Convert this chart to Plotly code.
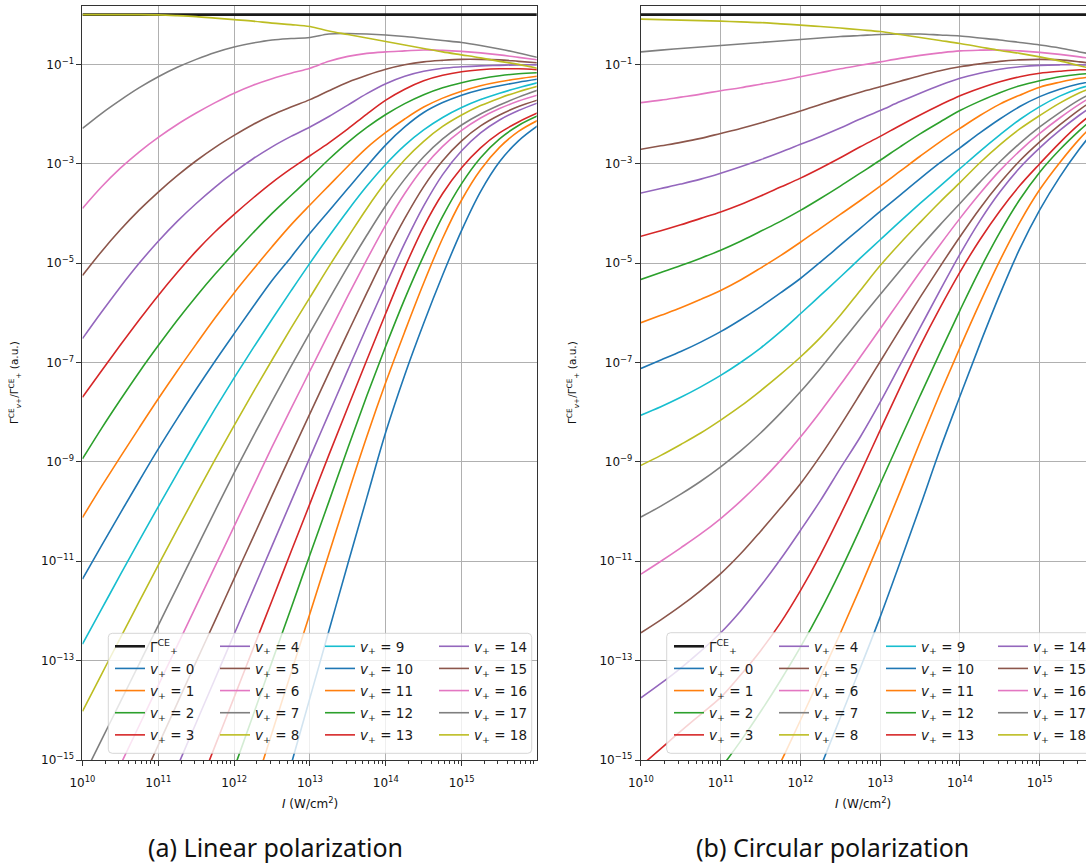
import plotly.graph_objects as go

# ---------------------------------------------------------------------------
# Data: log10 of intensity (W/cm^2) and log10 of Gamma_v+ / Gamma_+
# (None where the ratio lies far below the plotted range)
# ---------------------------------------------------------------------------
log_i_lin = [10.0, 10.25, 10.5, 10.75, 11.0, 11.25, 11.5, 11.75, 12.0, 12.25, 12.5, 12.75, 13.0,
             13.25, 13.5, 13.75, 14.0, 14.25, 14.5, 14.75, 15.0, 15.25, 15.5, 15.75, 16.0]
log_i_cir = [10.0, 10.25, 10.5, 10.75, 11.0, 11.25, 11.5, 11.75, 12.0, 12.25, 12.5, 12.75, 13.0,
             13.25, 13.5, 13.75, 14.0, 14.25, 14.5, 14.75, 15.0, 15.25, 15.5, 15.75]

# total rate (normalised)
lin_gamma = [0.0] * 25
cir_gamma = [0.0] * 24

# (a) linear polarization
lin_v0 = [None, None, None, None, None, None, None, None, None, -17.8, -16.45, -15.1, -13.75,
          -12.4, -11.05, -9.72, -8.4, -7.25, -6.21, -5.24, -4.34, -3.56, -2.96, -2.54, -2.24]
lin_v1 = [None, None, None, None, None, None, None, -18.05, -16.85, -15.65, -14.45, -13.25, -12.05,
          -10.85, -9.65, -8.49, -7.4, -6.38, -5.4, -4.5, -3.73, -3.12, -2.67, -2.35, -2.13]
lin_v2 = [None, None, None, None, None, None, -17.3, -16.25, -15.17, -14.1, -13.02, -11.95, -10.87,
          -9.8, -8.72, -7.67, -6.67, -5.72, -4.85, -4.06, -3.4, -2.88, -2.5, -2.23, -2.04]
lin_v3 = [None, None, None, None, None, -16.66, -15.69, -14.71, -13.74, -12.76, -11.79, -10.81, -9.84,
          -8.86, -7.9, -6.95, -6.01, -5.09, -4.27, -3.6, -3.08, -2.68, -2.38, -2.16, -1.98]
lin_v4 = [None, None, None, -16.92, -16.03, -15.14, -14.25, -13.36, -12.47, -11.58, -10.69, -9.8, -8.91,
          -8.03, -7.15, -6.28, -5.43, -4.6, -3.85, -3.22, -2.74, -2.38, -2.12, -1.93, -1.78]
lin_v5 = [None, -17.2, -16.37, -15.53, -14.7, -13.86, -13.02, -12.19, -11.35, -10.52, -9.68, -8.85, -8.03,
          -7.21, -6.4, -5.6, -4.82, -4.1, -3.46, -2.94, -2.54, -2.24, -2.02, -1.85, -1.72]
lin_v6 = [-16.7, -15.9, -15.1, -14.3, -13.5, -12.7, -11.9, -11.1, -10.3, -9.5, -8.7, -7.93, -7.17,
          -6.41, -5.66, -4.93, -4.23, -3.6, -3.07, -2.65, -2.33, -2.08, -1.89, -1.74, -1.62]
lin_v7 = [-15.37, -14.6, -13.83, -13.06, -12.29, -11.52, -10.75, -9.98, -9.22, -8.49, -7.78, -7.08, -6.4,
          -5.73, -5.07, -4.44, -3.84, -3.31, -2.86, -2.5, -2.22, -2.0, -1.82, -1.66, -1.52]
lin_v8 = [-14.02, -13.28, -12.54, -11.81, -11.08, -10.36, -9.65, -8.95, -8.27, -7.6, -6.95, -6.31, -5.69,
          -5.07, -4.48, -3.9, -3.37, -2.92, -2.55, -2.25, -2.02, -1.83, -1.68, -1.55, -1.44]
lin_v9 = [-12.67, -11.97, -11.27, -10.58, -9.9, -9.23, -8.57, -7.93, -7.31, -6.71, -6.13, -5.56, -5.0,
          -4.46, -3.94, -3.45, -3.01, -2.63, -2.32, -2.07, -1.87, -1.71, -1.58, -1.47, -1.37]
lin_v10 = [-11.36, -10.69, -10.03, -9.38, -8.74, -8.13, -7.54, -6.97, -6.42, -5.88, -5.35, -4.88, -4.4,
           -3.95, -3.5, -3.05, -2.62, -2.26, -1.97, -1.77, -1.62, -1.51, -1.43, -1.36, -1.3]
lin_v11 = [-10.12, -9.5, -8.9, -8.31, -7.73, -7.17, -6.63, -6.1, -5.6, -5.13, -4.67, -4.23, -3.83,
           -3.44, -3.05, -2.68, -2.37, -2.1, -1.86, -1.68, -1.54, -1.43, -1.35, -1.29, -1.24]
lin_v12 = [-8.94, -8.33, -7.75, -7.19, -6.66, -6.15, -5.67, -5.22, -4.8, -4.39, -4.0, -3.64, -3.28,
           -2.91, -2.57, -2.27, -2.01, -1.79, -1.61, -1.47, -1.37, -1.29, -1.23, -1.19, -1.17]
lin_v13 = [-7.7, -7.17, -6.65, -6.14, -5.65, -5.19, -4.76, -4.37, -4.02, -3.69, -3.38, -3.1, -2.84,
           -2.58, -2.3, -2.0, -1.72, -1.5, -1.33, -1.22, -1.15, -1.11, -1.09, -1.09, -1.11]
lin_v14 = [-6.52, -5.99, -5.48, -5.0, -4.56, -4.16, -3.8, -3.47, -3.17, -2.9, -2.66, -2.45, -2.26,
           -2.05, -1.82, -1.59, -1.39, -1.24, -1.14, -1.08, -1.05, -1.03, -1.02, -1.01, -1.01]
lin_v15 = [-5.25, -4.77, -4.33, -3.93, -3.57, -3.24, -2.94, -2.67, -2.43, -2.21, -2.02, -1.86, -1.71,
           -1.53, -1.36, -1.22, -1.1, -1.01, -0.95, -0.92, -0.9, -0.9, -0.91, -0.94, -0.97]
lin_v16 = [-3.9, -3.47, -3.09, -2.76, -2.47, -2.21, -1.98, -1.77, -1.58, -1.42, -1.29, -1.18, -1.08,
           -0.94, -0.84, -0.78, -0.75, -0.73, -0.71, -0.72, -0.74, -0.77, -0.81, -0.86, -0.91]
lin_v17 = [-2.29, -1.99, -1.72, -1.47, -1.25, -1.06, -0.9, -0.76, -0.65, -0.57, -0.51, -0.48, -0.46,
           -0.39, -0.38, -0.39, -0.41, -0.44, -0.48, -0.52, -0.56, -0.62, -0.69, -0.77, -0.86]
lin_v18 = [0.0, 0.0, 0.0, 0.0, -0.005, -0.02, -0.04, -0.07, -0.1, -0.13, -0.17, -0.2, -0.24,
           -0.33, -0.4, -0.47, -0.54, -0.61, -0.68, -0.75, -0.81, -0.87, -0.94, -1.0, -1.08]

# (b) circular polarization
cir_v0 = [None, None, None, None, None, None, None, -17.2, -16.2, -15.15, -14.15, -13.15,
          -12.12, -11.02, -9.9, -8.75, -7.68, -6.63, -5.63, -4.71, -3.93, -3.27, -2.7, -2.2]
cir_v1 = [None, None, None, None, None, -16.5, -15.8, -15.05, -14.2, -13.33, -12.45, -11.53,
          -10.58, -9.6, -8.6, -7.63, -6.7, -5.8, -4.95, -4.18, -3.52, -2.98, -2.5, -2.1]
cir_v2 = [None, None, -16.2, -15.7, -15.17, -14.62, -14.03, -13.4, -12.73, -12.0, -11.2, -10.34,
          -9.44, -8.55, -7.67, -6.8, -5.95, -5.13, -4.38, -3.72, -3.17, -2.72, -2.33, -1.98]
cir_v3 = [-15.12, -14.77, -14.42, -14.08, -13.74, -13.29, -12.8, -12.24, -11.59, -10.87, -10.07, -9.23,
          -8.36, -7.5, -6.67, -5.9, -5.18, -4.53, -3.95, -3.44, -3.0, -2.58, -2.2, -1.88]
cir_v4 = [-13.75, -13.46, -13.15, -12.81, -12.44, -12.0, -11.5, -10.96, -10.38, -9.78, -9.13, -8.5,
          -7.8, -7.05, -6.3, -5.55, -4.82, -4.15, -3.57, -3.08, -2.68, -2.33, -2.02, -1.74]
cir_v5 = [-12.44, -12.18, -11.9, -11.59, -11.25, -10.85, -10.4, -9.93, -9.44, -8.88, -8.27, -7.63,
          -6.98, -6.33, -5.69, -5.07, -4.47, -3.9, -3.39, -2.94, -2.56, -2.22, -1.91, -1.64]
cir_v6 = [-11.26, -11.0, -10.73, -10.45, -10.14, -9.79, -9.4, -8.97, -8.5, -7.99, -7.45, -6.89,
          -6.32, -5.75, -5.18, -4.63, -4.1, -3.6, -3.14, -2.74, -2.39, -2.08, -1.8, -1.56]
cir_v7 = [-10.11, -9.89, -9.65, -9.39, -9.1, -8.78, -8.42, -8.02, -7.59, -7.12, -6.62, -6.12,
          -5.63, -5.15, -4.68, -4.23, -3.8, -3.37, -2.96, -2.59, -2.26, -1.97, -1.71, -1.5]
cir_v8 = [-9.07, -8.87, -8.65, -8.42, -8.16, -7.88, -7.57, -7.24, -6.89, -6.5, -6.05, -5.55,
          -5.05, -4.6, -4.18, -3.77, -3.38, -2.98, -2.62, -2.3, -2.03, -1.78, -1.57, -1.42]
cir_v9 = [-8.06, -7.89, -7.7, -7.49, -7.26, -7.0, -6.71, -6.38, -6.02, -5.65, -5.28, -4.9,
          -4.53, -4.16, -3.8, -3.45, -3.1, -2.75, -2.42, -2.11, -1.85, -1.64, -1.48, -1.38]
cir_v10 = [-7.12, -6.95, -6.78, -6.59, -6.38, -6.14, -5.88, -5.6, -5.31, -4.98, -4.64, -4.3,
           -3.96, -3.63, -3.3, -2.98, -2.68, -2.38, -2.1, -1.85, -1.65, -1.5, -1.39, -1.32]
cir_v11 = [-6.2, -6.05, -5.9, -5.73, -5.55, -5.34, -5.1, -4.85, -4.58, -4.3, -4.02, -3.74,
           -3.45, -3.15, -2.85, -2.56, -2.29, -2.03, -1.8, -1.62, -1.46, -1.36, -1.28, -1.24]
cir_v12 = [-5.33, -5.19, -5.05, -4.9, -4.74, -4.56, -4.36, -4.16, -3.94, -3.7, -3.45, -3.19,
           -2.93, -2.66, -2.4, -2.16, -1.93, -1.74, -1.57, -1.43, -1.33, -1.25, -1.2, -1.17]
cir_v13 = [-4.46, -4.35, -4.23, -4.1, -3.97, -3.82, -3.65, -3.47, -3.29, -3.09, -2.88, -2.66,
           -2.45, -2.23, -2.02, -1.82, -1.63, -1.48, -1.35, -1.25, -1.18, -1.14, -1.11, -1.11]
cir_v14 = [-3.59, -3.5, -3.41, -3.31, -3.19, -3.06, -2.92, -2.77, -2.61, -2.45, -2.28, -2.1,
           -1.93, -1.75, -1.58, -1.42, -1.28, -1.18, -1.1, -1.05, -1.02, -1.01, -1.01, -1.03]
cir_v15 = [-2.71, -2.64, -2.57, -2.49, -2.39, -2.29, -2.18, -2.06, -1.94, -1.81, -1.68, -1.56,
           -1.45, -1.34, -1.23, -1.13, -1.05, -0.99, -0.94, -0.91, -0.9, -0.91, -0.95, -1.0]
cir_v16 = [-1.77, -1.72, -1.66, -1.6, -1.53, -1.47, -1.4, -1.33, -1.25, -1.17, -1.09, -1.02,
           -0.95, -0.88, -0.82, -0.77, -0.73, -0.715, -0.71, -0.73, -0.76, -0.8, -0.85, -0.91]
cir_v17 = [-0.75, -0.715, -0.68, -0.65, -0.62, -0.59, -0.56, -0.53, -0.5, -0.47, -0.44, -0.42,
           -0.4, -0.39, -0.39, -0.41, -0.43, -0.47, -0.51, -0.56, -0.61, -0.67, -0.75, -0.83]
cir_v18 = [-0.09, -0.1, -0.11, -0.12, -0.13, -0.145, -0.16, -0.185, -0.21, -0.24, -0.27, -0.305,
           -0.34, -0.4, -0.46, -0.52, -0.58, -0.65, -0.72, -0.78, -0.85, -0.93, -1.03, -1.12]

lin_curves = [lin_v0, lin_v1, lin_v2, lin_v3, lin_v4, lin_v5, lin_v6, lin_v7, lin_v8, lin_v9,
              lin_v10, lin_v11, lin_v12, lin_v13, lin_v14, lin_v15, lin_v16, lin_v17, lin_v18]
cir_curves = [cir_v0, cir_v1, cir_v2, cir_v3, cir_v4, cir_v5, cir_v6, cir_v7, cir_v8, cir_v9,
              cir_v10, cir_v11, cir_v12, cir_v13, cir_v14, cir_v15, cir_v16, cir_v17, cir_v18]

x_tick_exp = [10, 11, 12, 13, 14, 15]
y_tick_exp = [-1, -3, -5, -7, -9, -11, -13, -15]

TAB10 = ["#1f77b4", "#ff7f0e", "#2ca02c", "#d62728", "#9467bd",
         "#8c564b", "#e377c2", "#7f7f7f", "#bcbd22", "#17becf"]

# ---------------------------------------------------------------------------
W, H = 1086, 867


def fx(px):
    return px / W


def fy(py):
    return 1 - py / H


def pow10(values):
    return [None if e is None else 10 ** e for e in values]


FONT = "DejaVu Sans"
fig = go.Figure()

panels = [
    dict(xa="x", ya="y", grid=log_i_lin, curves=lin_curves, gamma=lin_gamma,
         legends=["legend", "legend2", "legend3", "legend4"],
         leg_x=[110, 215, 320, 434]),
    dict(xa="x2", ya="y2", grid=log_i_cir, curves=cir_curves, gamma=cir_gamma,
         legends=["legend5", "legend6", "legend7", "legend8"],
         leg_x=[669, 774, 881, 993]),
]


def column_of(v):
    if v <= 3:
        return 0
    if v <= 8:
        return 1
    if v <= 13:
        return 2
    return 3


for p in panels:
    xs = pow10(p["grid"])
    fig.add_trace(go.Scatter(
        x=xs, y=pow10(p["gamma"]), mode="lines",
        line=dict(color="#1a1a1a", width=2.6),
        name="Γ<sup>CE</sup><sub>+</sub>", legend=p["legends"][0],
        legendgroup=p["xa"] + "g", xaxis=p["xa"], yaxis=p["ya"], hoverinfo="skip"))
    for v, vals in enumerate(p["curves"]):
        fig.add_trace(go.Scatter(
            x=xs, y=pow10(vals), mode="lines",
            line=dict(color=TAB10[v % 10], width=1.6, shape="spline", smoothing=1.0),
            name=f"<i>v</i><sub>+</sub> = {v}", legend=p["legends"][column_of(v)],
            legendgroup=f"{p['xa']}v{v}", xaxis=p["xa"], yaxis=p["ya"], hoverinfo="skip"))

axis_common = dict(
    type="log", showgrid=True, gridcolor="#b0b0b0", gridwidth=0.8,
    showline=True, linecolor="#333333", linewidth=1.1,
    ticks="outside", ticklen=5, tickwidth=1, tickcolor="#333333",
    tickfont=dict(family=FONT, size=12, color="#111111"),
    zeroline=False, automargin=False,
)

xtv = [10.0 ** e for e in x_tick_exp]
xtt = [f"10<sup>{e}</sup>" for e in x_tick_exp]
ytv = [10.0 ** e for e in y_tick_exp]
ytt = [f"10<sup>−{-e}</sup>" for e in y_tick_exp]
minor_x = [m * 10.0 ** e for e in range(10, 16) for m in range(2, 10)]

y_dom = [fy(760), fy(6)]
y_range = [-15, 0.174]

fig.update_layout(
    width=W, height=H, margin=dict(l=0, r=0, t=0, b=0, autoexpand=False),
    paper_bgcolor="white", plot_bgcolor="white", showlegend=True,
    xaxis=dict(axis_common, domain=[fx(82.45), fx(536.7)], range=[10, 15.99],
               tickmode="array", tickvals=xtv, ticktext=xtt, mirror=True, anchor="y",
               ticklabelstandoff=7,
               minor=dict(tickmode="array", tickvals=minor_x, ticks="outside",
                          ticklen=2.5, tickcolor="#333333", showgrid=False)),
    yaxis=dict(axis_common, domain=y_dom, range=y_range, tickmode="array",
               tickvals=ytv, ticktext=ytt, mirror=True, anchor="x"),
    xaxis2=dict(axis_common, domain=[fx(640.9), 1.0], range=[10, 15.58],
                tickmode="array", tickvals=xtv, ticktext=xtt, mirror=True, anchor="y2",
                ticklabelstandoff=7,
                minor=dict(tickmode="array", tickvals=minor_x, ticks="outside",
                           ticklen=2.5, tickcolor="#333333", showgrid=False)),
    yaxis2=dict(axis_common, domain=y_dom, range=y_range, tickmode="array",
                tickvals=ytv, ticktext=ytt, mirror=False, anchor="x2"),
)

# legends: four columns per panel
leg_font = dict(family=FONT, size=13.5, color="#1a1a1a")
for p in panels:
    for k, name in enumerate(p["legends"]):
        fig.update_layout({name: dict(
            x=fx(p["leg_x"][k]), y=fy(631), xanchor="left", yanchor="top",
            xref="paper", yref="paper", bgcolor="rgba(0,0,0,0)", borderwidth=0,
            font=leg_font, tracegroupgap=1.6, itemwidth=30, orientation="v")})


def rounded_box(x0, y0, x1, y1, r=4):
    X0, X1 = fx(x0), fx(x1)
    Y0, Y1 = fy(y0), fy(y1)
    rx, ry = r / W, r / H
    return (f"M{X0 + rx},{Y0} L{X1 - rx},{Y0} Q{X1},{Y0} {X1},{Y0 - ry} "
            f"L{X1},{Y1 + ry} Q{X1},{Y1} {X1 - rx},{Y1} L{X0 + rx},{Y1} "
            f"Q{X0},{Y1} {X0},{Y1 + ry} L{X0},{Y0 - ry} Q{X0},{Y0} {X0 + rx},{Y0} Z")


for box in [(108.3, 633.3, 531.7, 753.3), (666.7, 632.7, 1100, 753.3)]:
    fig.add_shape(type="path", path=rounded_box(*box), xref="paper", yref="paper",
                  fillcolor="rgba(255,255,255,0.8)", line=dict(color="rgba(204,204,204,0.8)", width=1),
                  layer="above")

# axis titles and captions
ytitle = "Γ<sup>CE</sup><sub><i>v</i>+</sub>/Γ<sup>CE</sup><sub>+</sub> (a.u.)"
xtitle = "<i>I</i> (W/cm<sup>2</sup>)"
annots = [
    dict(x=fx(15), y=fy(383), text=ytitle, textangle=-90, font=dict(family=FONT, size=10.5, color="#111")),
    dict(x=fx(573), y=fy(383), text=ytitle, textangle=-90, font=dict(family=FONT, size=10.5, color="#111")),
    dict(x=fx(309.6), y=fy(803), text=xtitle, font=dict(family=FONT, size=12, color="#111")),
    dict(x=fx(863), y=fy(803), text=xtitle, font=dict(family=FONT, size=12, color="#111")),
    dict(x=fx(275), y=fy(847), text="(a) Linear polarization", font=dict(family="Noto Sans", size=25, color="#111")),
    dict(x=fx(832), y=fy(847), text="(b) Circular polarization", font=dict(family="Noto Sans", size=25, color="#111")),
]
for a in annots:
    fig.add_annotation(xref="paper", yref="paper", showarrow=False, xanchor="center",
                       yanchor="middle", **a)

fig.write_html("out.html")
